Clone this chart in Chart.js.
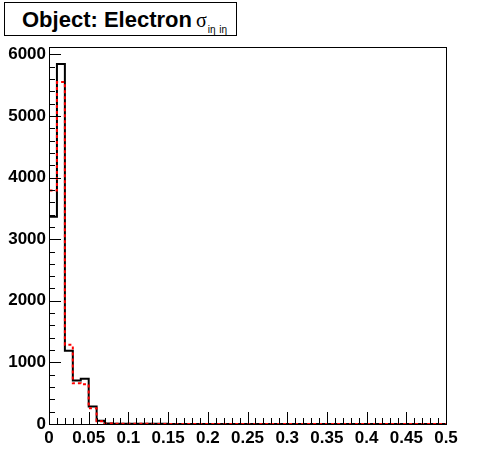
<!DOCTYPE html>
<html>
<head>
<meta charset="utf-8">
<script src="https://cdn.jsdelivr.net/npm/chart.js@4/dist/chart.umd.min.js"></script>
<style>
  body { margin: 0; background: #fff; }
  .wrap { position: relative; width: 496px; height: 472px; }
  #title {
    position: absolute; left: 4px; top: 2px; width: 231px; height: 32px;
    border: 1px solid #000; background: #fff; box-sizing: content-box;
    font: bold 22px 'Liberation Sans', Arial, sans-serif; color: #000;
    white-space: nowrap;
  }
  #title .txt { position: absolute; left: 17px; top: 4px; }
  #title .sym { font: 20px 'Liberation Serif', serif; font-weight: normal; margin-left: 4px; }
  #title sub { font: 10px 'Liberation Sans', Arial, sans-serif; color: #000; vertical-align: -6px; margin-left: 1px; word-spacing: 1px; }
</style>
</head>
<body>
<div class="wrap">
  <canvas id="chart" width="496" height="472"></canvas>
  <div id="title"><span class="txt">Object: Electron<span class="sym">σ<sub>iη iη</sub></span></span></div>
</div>
<script>
// histogram binning (50 bins of 0.01 from 0 to 0.5)
const binStart = 0
const binWidth = 0.01
const nBins = 50

// bin contents
const blackCounts = [3365, 5845, 1190, 705, 735, 285, 54, 10, 6, 5,
                     4, 4, 3, 3, 3, 2, 2, 2, 2, 2,
                     1, 1, 1, 1, 1, 1, 1, 1, 1, 1,
                     1, 1, 0, 0, 1, 0, 0, 0, 0, 0,
                     0, 0, 0, 0, 0, 0, 0, 0, 0, 0]
const redCounts = [3790, 5550, 1285, 660, 645, 255, 45, 8, 5, 4,
                   3, 3, 3, 2, 2, 2, 2, 1, 1, 1,
                   1, 1, 1, 1, 1, 1, 1, 0, 1, 0,
                   0, 0, 0, 0, 0, 0, 0, 0, 0, 0,
                   0, 0, 0, 0, 0, 0, 0, 0, 0, 0]

const xTickValues = [0, 0.05, 0.1, 0.15, 0.2, 0.25, 0.3, 0.35, 0.4, 0.45, 0.5]
const xTickLabels = ['0', '0.05', '0.1', '0.15', '0.2', '0.25', '0.3', '0.35', '0.4', '0.45', '0.5']
const yTickValues = [0, 1000, 2000, 3000, 4000, 5000, 6000]
const yTickLabels = ['0', '1000', '2000', '3000', '4000', '5000', '6000']

// turn bin contents into step points (left edge of each bin + closing edge)
function histPoints(counts) {
    let pts = [{x: binStart, y: 0}]
    counts.forEach((c, i) => {
        pts.push({x: binStart + i * binWidth, y: c})
    })
    pts.push({x: binStart + nBins * binWidth, y: counts[counts.length - 1]})
    return pts
}

// ROOT style frame with ticks pointing inwards
const frameTicks = {
    id: 'frameTicks',
    afterDatasetsDraw(chart) {
        const ctx = chart.ctx
        const a = chart.chartArea
        const xs = chart.scales.x
        const ys = chart.scales.y
        ctx.save()
        ctx.strokeStyle = '#000'
        ctx.lineWidth = 1
        ctx.beginPath()
        // x ticks: minor every 0.01, major every 0.05
        for (let i = 0; i <= nBins; i++) {
            let px = Math.round(xs.getPixelForValue(binStart + i * binWidth)) + 0.5
            let len = (i % 5 == 0) ? 12 : 6
            ctx.moveTo(px, a.bottom)
            ctx.lineTo(px, a.bottom - len)
        }
        // y ticks: minor every 200, major every 1000
        for (let v = 0; v <= 6000; v += 200) {
            let py = Math.round(ys.getPixelForValue(v)) + 0.5
            let len = (v % 1000 == 0) ? 12 : 6
            ctx.moveTo(a.left, py)
            ctx.lineTo(a.left + len, py)
        }
        ctx.stroke()
        ctx.strokeRect(Math.round(a.left) + 0.5, Math.round(a.top) + 0.5,
                       Math.round(a.right - a.left), Math.round(a.bottom - a.top))
        ctx.restore()
    }
}

let ctx = document.getElementById('chart').getContext('2d')

new Chart(ctx, {
    type: 'line',
    data: {
        datasets: [{
            label: 'red',
            data: histPoints(redCounts),
            stepped: 'before',
            borderColor: '#ff0000',
            borderWidth: 2,
            borderDash: [3, 3],
            pointRadius: 0,
            fill: false,
            order: 0
        },
        {
            label: 'black',
            data: histPoints(blackCounts),
            stepped: 'before',
            borderColor: '#000000',
            borderWidth: 2,
            pointRadius: 0,
            fill: false,
            order: 1
        }]
    },
    options: {
        responsive: false,
        animation: false,
        layout: { padding: { left: 0, right: 50, top: 47, bottom: 0 } },
        plugins: { legend: { display: false }, tooltip: { enabled: false } },
        scales: {
            x: {
                type: 'linear',
                min: 0,
                max: 0.5,
                afterBuildTicks: (scale) => { scale.ticks = xTickValues.map(v => ({value: v})) },
                afterFit: (scale) => { scale.height = 48 },
                grid: { display: false, drawTicks: false },
                border: { display: false },
                ticks: {
                    color: '#000',
                    font: { family: "'Liberation Sans', Arial, sans-serif", size: 17, weight: 'bold' },
                    padding: 4,
                    maxRotation: 0,
                    autoSkip: false,
                    callback: (v) => xTickLabels[xTickValues.indexOf(v)]
                }
            },
            y: {
                type: 'linear',
                min: 0,
                max: 6120,
                afterBuildTicks: (scale) => { scale.ticks = yTickValues.map(v => ({value: v})) },
                afterFit: (scale) => { scale.width = 49 },
                grid: { display: false, drawTicks: false },
                border: { display: false },
                ticks: {
                    color: '#000',
                    font: { family: "'Liberation Sans', Arial, sans-serif", size: 17, weight: 'bold' },
                    padding: 3,
                    autoSkip: false,
                    callback: (v) => yTickLabels[yTickValues.indexOf(v)]
                }
            }
        }
    },
    plugins: [frameTicks]
})
</script>
</body>
</html>
